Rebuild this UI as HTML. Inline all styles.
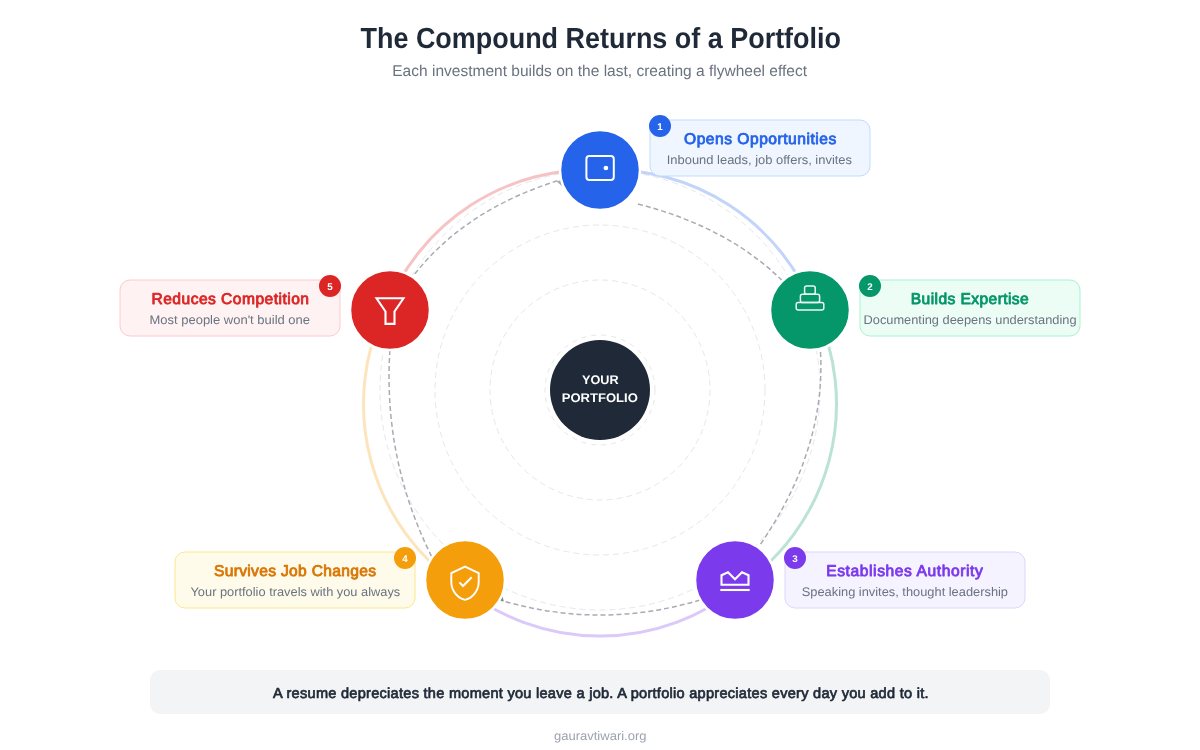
<!DOCTYPE html>
<html lang="en">
<head>
<meta charset="utf-8">
<title>The Compound Returns of a Portfolio</title>
<style>
  html, body { margin: 0; padding: 0; background: #ffffff; }
  body { width: 1200px; height: 750px; overflow: hidden; }
  svg { display: block; will-change: transform; }
  text { font-family: "Liberation Sans", Arial, Helvetica, sans-serif; text-rendering: geometricPrecision; }
</style>
</head>
<body>
<svg width="1200" height="750" viewBox="0 0 1200 750">
  <rect width="1200" height="750" fill="#ffffff"/>

  <!-- Header -->
  <text id="t-title" x="360.50" y="48.00" font-size="29.12" font-weight="700" fill="#1f2937" textLength="480.50" lengthAdjust="spacingAndGlyphs">The Compound Returns of a Portfolio</text>
  <text id="t-sub" x="392.25" y="76.00" font-size="15.60" font-weight="400" fill="#6b7280" textLength="414.76" lengthAdjust="spacingAndGlyphs">Each investment builds on the last, creating a flywheel effect</text>

  <!-- Orbit rings -->
  <g fill="none" stroke="#e5e7eb" stroke-width="1">
    <circle cx="600" cy="390" r="220" stroke-dasharray="6 4"/>
    <circle cx="600" cy="390" r="165" stroke-dasharray="6 4"/>
    <circle cx="600" cy="390" r="110" stroke-dasharray="6 4"/>
    <circle cx="600" cy="390" r="55" stroke-dasharray="5 5"/>
  </g>

  <!-- Coloured flywheel arcs -->
  <g fill="none" stroke-width="3" opacity="0.27">
    <path d="M600.0 169.9 A220 220 0 0 1 813.8 308.5" stroke="#2563eb"/>
    <path d="M814.4 307.9 A220 220 0 0 1 739.4 586.5" stroke="#059669"/>
    <path d="M739.9 585.9 A220 220 0 0 1 460.1 585.9" stroke="#7c3aed"/>
    <path d="M460.6 586.5 A220 220 0 0 1 385.6 307.9" stroke="#f59e0b"/>
    <path d="M386.2 308.5 A220 220 0 0 1 600.0 169.9" stroke="#dc2626"/>
  </g>

  <!-- Dashed flow arrows -->
  <g fill="none" stroke="#a8acb2" stroke-width="1.5" stroke-dasharray="5 3">
    <path d="M638 204 Q730.8 227.8 786.2 284.5"/>
    <path d="M820.5 352 Q825.9 448.7 760.3 544.6"/>
    <path d="M700 600 Q600 630 500 600"/>
    <path d="M432 557.3 Q383 459.3 389.9 350" stroke-dashoffset="-1"/>
    <path d="M413.4 275.6 Q466.2 208.2 561.5 179.6" stroke-dashoffset="-2.2"/>
  </g>

  <!-- Arrow heads (mostly tucked under the nodes) -->
  <g fill="#a8acb2">
    <polygon points="503.8,601.4 501.8,593.5 495,598.5" fill="#7b8290"/>
    <polygon points="556.6,181.4 562.8,187 566,178.5"/>
  </g>

  <!-- Centre hub -->
  <circle cx="600" cy="390" r="50" fill="#1f2937"/>
  <text id="t-c1" x="582.00" y="384.00" font-size="12.48" font-weight="700" fill="#ffffff" textLength="36.52" lengthAdjust="spacingAndGlyphs">YOUR</text>
  <text id="t-c2" x="561.75" y="402.00" font-size="12.48" font-weight="700" fill="#ffffff" textLength="76.03" lengthAdjust="spacingAndGlyphs">PORTFOLIO</text>

  <!-- Nodes -->
  <g stroke="#ffffff" stroke-width="2.5">
    <circle cx="600" cy="170" r="40" fill="#2563eb"/>
    <circle cx="810" cy="310" r="40" fill="#059669"/>
    <circle cx="735" cy="580" r="40" fill="#7c3aed"/>
    <circle cx="465" cy="580" r="40" fill="#f59e0b"/>
    <circle cx="390" cy="310" r="40" fill="#dc2626"/>
  </g>

  <!-- Node icons -->
  <g fill="none" stroke="#ffffff" stroke-width="2" stroke-linejoin="miter">
    <!-- 1: wallet -->
    <rect x="586.4" y="156" width="27.4" height="24" rx="3"/>
    <circle cx="605.9" cy="168" r="2.35" fill="#ffffff" stroke="none"/>
    <!-- 2: stacked blocks -->
    <g stroke-width="1.5" opacity="0.92">
      <rect x="804.6" y="286" width="10.6" height="8.3" rx="2"/>
      <rect x="800.4" y="294.3" width="19.2" height="8.3" rx="2"/>
      <rect x="796.2" y="302.6" width="27.6" height="7.3" rx="2"/>
    </g>
    <!-- 3: crown -->
    <path d="M721.5 584.8 V575.2 L728 572.2 L735 579.3 L742 572.2 L748.5 575.2 V584.8 Z" stroke-width="2.1"/>
    <path d="M720.3 590 H749.7" stroke-width="2.1"/>
    <!-- 4: shield -->
    <path d="M465 566.6 L451.3 573.2 V582 C451.3 590.4 457.1 598 465 599.9 C472.9 598 478.7 590.4 478.7 582 V573.2 Z" stroke-width="1.9"/>
    <path d="M459.4 582.4 L463 586 L471.7 577.3"/>
    <!-- 5: funnel -->
    <path d="M376.5 298.3 H403.5 L394.5 311.5 V323.9 H385.5 V311.5 Z" stroke-width="2.1"/>
  </g>

  <!-- Label cards -->
  <g stroke-width="1">
    <rect x="650" y="120" width="220" height="56" rx="10" fill="#eff6ff" stroke="#bfdbfe"/>
    <rect x="860" y="280" width="220" height="56" rx="10" fill="#ecfdf5" stroke="#a7f3d0"/>
    <rect x="785" y="552" width="240" height="56" rx="10" fill="#f5f3ff" stroke="#ddd6fe"/>
    <rect x="175" y="552" width="240" height="56" rx="10" fill="#fffbeb" stroke="#fde68a"/>
    <rect x="120" y="280" width="220" height="56" rx="10" fill="#fef2f2" stroke="#fecaca"/>
  </g>
  <text id="t-b1a" x="684.00" y="144.00" font-size="15.60" font-weight="400" fill="#2563eb" stroke="#2563eb" stroke-width="0.85" stroke-linejoin="round" textLength="152.25" lengthAdjust="spacing">Opens Opportunities</text>
  <text id="t-b1b" x="666.75" y="164.00" font-size="12.48" font-weight="400" fill="#6b7280" textLength="185.27" lengthAdjust="spacingAndGlyphs">Inbound leads, job offers, invites</text>
  <text id="t-b2a" x="910.75" y="304.00" font-size="15.60" font-weight="400" fill="#059669" stroke="#059669" stroke-width="0.85" stroke-linejoin="round" textLength="118.01" lengthAdjust="spacing">Builds Expertise</text>
  <text id="t-b2b" x="863.50" y="324.00" font-size="12.48" font-weight="400" fill="#6b7280" textLength="213.02" lengthAdjust="spacingAndGlyphs">Documenting deepens understanding</text>
  <text id="t-b3a" x="826.25" y="576.00" font-size="15.60" font-weight="400" fill="#7c3aed" stroke="#7c3aed" stroke-width="0.85" stroke-linejoin="round" textLength="156.50" lengthAdjust="spacing">Establishes Authority</text>
  <text id="t-b3b" x="801.75" y="596.00" font-size="12.48" font-weight="400" fill="#6b7280" textLength="206.26" lengthAdjust="spacingAndGlyphs">Speaking invites, thought leadership</text>
  <text id="t-b4a" x="214.00" y="576.00" font-size="15.60" font-weight="400" fill="#d97706" stroke="#d97706" stroke-width="0.85" stroke-linejoin="round" textLength="162.00" lengthAdjust="spacing">Survives Job Changes</text>
  <text id="t-b4b" x="190.50" y="596.00" font-size="12.48" font-weight="400" fill="#6b7280" textLength="209.75" lengthAdjust="spacingAndGlyphs">Your portfolio travels with you always</text>
  <text id="t-b5a" x="151.50" y="304.00" font-size="15.60" font-weight="400" fill="#dc2626" stroke="#dc2626" stroke-width="0.85" stroke-linejoin="round" textLength="157.51" lengthAdjust="spacing">Reduces Competition</text>
  <text id="t-b5b" x="149.50" y="324.00" font-size="12.48" font-weight="400" fill="#6b7280" textLength="160.52" lengthAdjust="spacingAndGlyphs">Most people won't build one</text>

  <!-- Step badges -->
  <circle cx="660" cy="126" r="11" fill="#2563eb"/><text x="660" y="129.6" text-anchor="middle" font-size="9.8" font-weight="700" fill="#ffffff">1</text>
  <circle cx="870" cy="286" r="11" fill="#059669"/><text x="870" y="289.6" text-anchor="middle" font-size="9.8" font-weight="700" fill="#ffffff">2</text>
  <circle cx="795" cy="558" r="11" fill="#7c3aed"/><text x="795" y="561.6" text-anchor="middle" font-size="9.8" font-weight="700" fill="#ffffff">3</text>
  <circle cx="405" cy="558" r="11" fill="#f59e0b"/><text x="405" y="561.6" text-anchor="middle" font-size="9.8" font-weight="700" fill="#ffffff">4</text>
  <circle cx="330" cy="286" r="11" fill="#dc2626"/><text x="330" y="289.6" text-anchor="middle" font-size="9.8" font-weight="700" fill="#ffffff">5</text>

  <!-- Quote bar -->
  <rect x="150" y="670" width="900" height="44" rx="10" fill="#f3f4f6"/>
  <text id="t-quote" x="273.00" y="698.00" font-size="14.56" font-weight="400" fill="#1f2937" stroke="#1f2937" stroke-width="0.7" stroke-linejoin="round" textLength="655.50" lengthAdjust="spacing">A resume depreciates the moment you leave a job. A portfolio appreciates every day you add to it.</text>
  <text id="t-foot" x="554.00" y="739.60" font-size="12.48" font-weight="400" fill="#9ca3af" textLength="92.52" lengthAdjust="spacingAndGlyphs">gauravtiwari.org</text>
</svg>
</body>
</html>
